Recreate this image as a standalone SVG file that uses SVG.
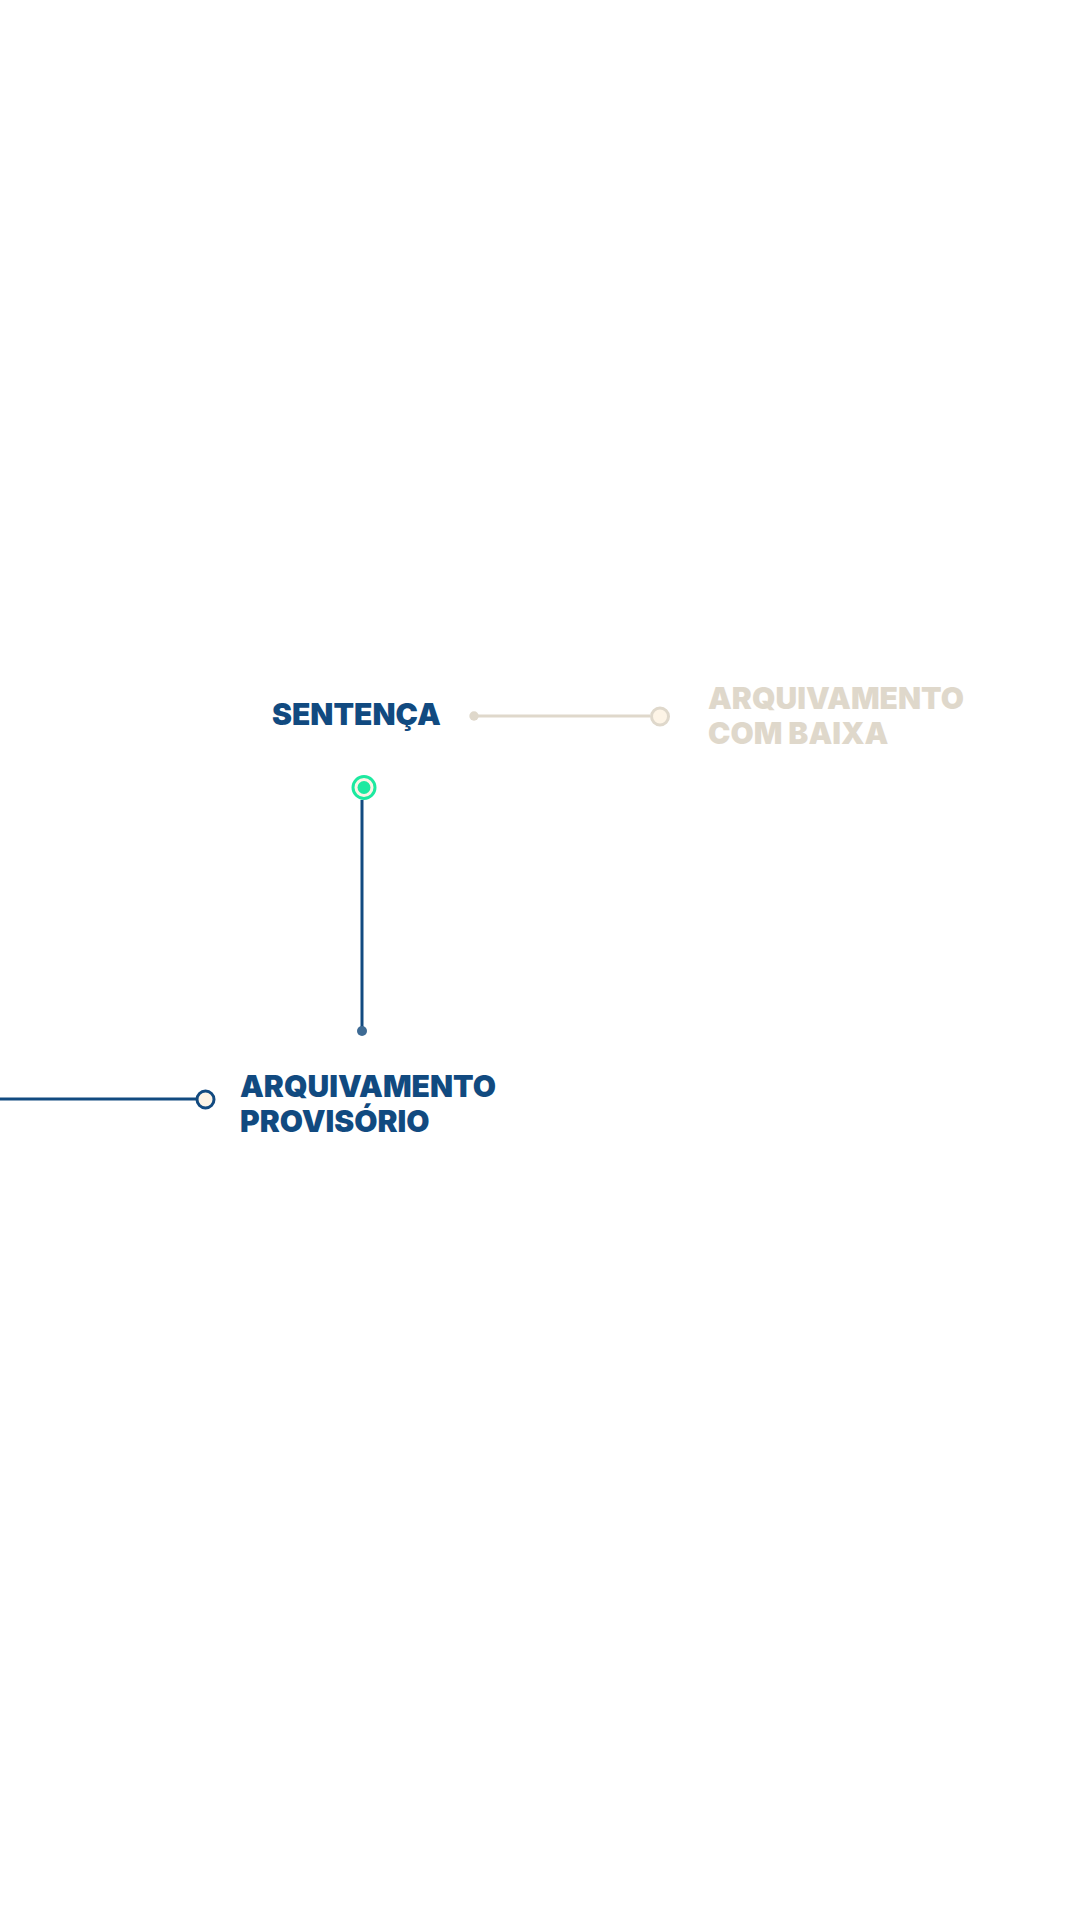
<svg xmlns="http://www.w3.org/2000/svg" width="1080" height="1920" viewBox="0 0 1080 1920">
<style>
.lbl{font-family:Inter,"Noto Sans","Liberation Sans",sans-serif;font-weight:900;font-size:30px}
.blue{fill:#114a80}
.beige{fill:#dfd8cb}
</style>
<rect width="1080" height="1920" fill="#ffffff"/>
<g id="connectors">
<line x1="474" y1="716" x2="650" y2="716" stroke="#dfd8cb" stroke-width="3"/>
<circle cx="474" cy="716" r="4.7" fill="#dfd8cb"/>
<line x1="362" y1="800" x2="362" y2="1031" stroke="#124a80" stroke-width="3"/>
<circle cx="362" cy="1031" r="5" fill="#3d6a94"/>
<line x1="0" y1="1099" x2="196" y2="1099" stroke="#124a80" stroke-width="3"/>
</g>
<g id="sentenca">
<text class="lbl blue" x="272" y="725" font-size="31">SENTENÇA</text>
<circle cx="364" cy="787.5" r="11" fill="#fdf4e6" stroke="#1de9a0" stroke-width="3"/>
<circle cx="364" cy="787.5" r="6.5" fill="#1de9a0"/>
</g>
<g id="arquivamento-com-baixa">
<circle cx="660" cy="716.5" r="8.5" fill="#fdf4e6" stroke="#dfd8cb" stroke-width="3"/>
<text class="lbl beige" x="708" y="709">ARQUIVAMENTO</text>
<text class="lbl beige" x="708" y="744">COM BAIXA</text>
</g>
<g id="arquivamento-provisorio">
<circle cx="205.5" cy="1099.5" r="8.5" fill="#fdf4e6" stroke="#124a80" stroke-width="3"/>
<text class="lbl blue" x="240" y="1097">ARQUIVAMENTO</text>
<text class="lbl blue" x="240" y="1132">PROVISÓRIO</text>
</g>
</svg>
